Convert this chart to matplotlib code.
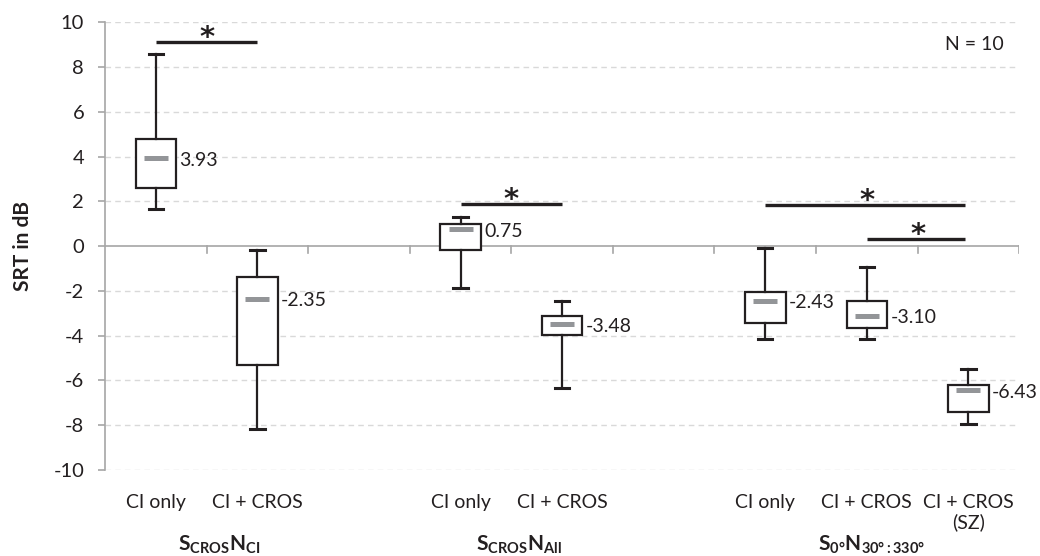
import matplotlib
matplotlib.use("Agg")
import matplotlib.pyplot as plt
import matplotlib.transforms as mtransforms

plt.rcParams['font.family'] = ['Lato', 'DejaVu Sans']
plt.rcParams['mathtext.fontset'] = 'custom'
plt.rcParams['mathtext.rm'] = 'Lato'
plt.rcParams['mathtext.bf'] = 'Lato:bold'
plt.rcParams['mathtext.it'] = 'Lato:italic'

# ---- data ----
categories = ["CI only", "CI + CROS", "", "CI only", "CI + CROS", "", "CI only", "CI + CROS", "CI + CROS\n(SZ)"]
box_positions = [0, 1, 3, 4, 6, 7, 8]
whisker_low = [1.68, -8.16, -1.89, -6.33, -4.14, -4.14, -7.94]
q1 = [2.58, -5.33, -0.18, -3.95, -3.44, -3.65, -7.42]
medians = [3.93, -2.35, 0.75, -3.48, -2.43, -3.10, -6.43]
q3 = [4.79, -1.39, 1.01, -3.14, -2.04, -2.44, -6.20]
whisker_high = [8.57, -0.19, 1.31, -2.45, -0.07, -0.92, -5.48]
median_labels = ["3.93", "-2.35", "0.75", "-3.48", "-2.43", "-3.10", "-6.43"]
group_labels = [r"$\mathbf{S_{CROS}N_{CI}}$", r"$\mathbf{S_{CROS}N_{All}}$", r"$\mathbf{S_{0°}N_{30°:330°}}$"]
group_positions = [0.62, 3.57, 7.05]
sig_from = [0, 3, 6, 7]
sig_to = [1, 4, 8, 8]
sig_y = [9.13, 1.89, 1.83, 0.34]
yticks = list(range(-10, 11, 2))

fig = plt.figure(figsize=(10.4, 5.56), dpi=100)
ax = fig.add_axes([0.101, 0.1547, 0.879, 0.805])
ax.set_xlim(-0.5, 8.5)
ax.set_ylim(-10, 10)

stats = []
for i in range(len(box_positions)):
    stats.append(dict(whislo=whisker_low[i], q1=q1[i], med=medians[i], q3=q3[i],
                      whishi=whisker_high[i], fliers=[]))
ax.bxp(stats, positions=box_positions, widths=0.4, capwidths=0.14,
       showfliers=False, patch_artist=True,
       boxprops=dict(facecolor='white', edgecolor='#231f20', linewidth=1.6),
       whiskerprops=dict(color='#231f20', linewidth=1.6),
       capprops=dict(color='#231f20', linewidth=2.2),
       medianprops=dict(linewidth=0), zorder=3)
ax.plot(box_positions, medians, linestyle='none', marker='_', markersize=17,
        markeredgewidth=3.6, color='#939598', zorder=4)
for p, m, lab in zip(box_positions, medians, median_labels):
    ax.annotate(lab, (p + 0.2, m), xytext=(2.5, -1.5), textcoords='offset points',
                ha='left', va='center', fontsize=14, color='#231f20', zorder=5)

# grid
for y in yticks:
    if y != 0:
        ax.axhline(y, color='#d9d9d9', linewidth=1.0, linestyle=(0, (4, 3)), zorder=0)
ax.axhline(0, color='#a6a6a6', linewidth=1.2, zorder=1)
for b in range(1, 10):
    ax.plot([b - 0.5, b - 0.5], [0, -0.32], color='#a6a6a6', linewidth=1.2, zorder=1)

for s in ['top', 'right', 'bottom']:
    ax.spines[s].set_visible(False)
ax.spines['left'].set_color('#a6a6a6')
ax.spines['left'].set_linewidth(1.2)
ax.set_yticks(yticks)
ax.set_yticklabels([str(y) for y in yticks])
ax.tick_params(axis='y', length=5, width=1.2, color='#a6a6a6', labelsize=14.5,
               labelcolor='#231f20', pad=10)
ax.set_xticks(range(len(categories)))
ax.set_xticklabels(categories, fontsize=14, color='#231f20', va='top', linespacing=1.15)
ax.tick_params(axis='x', length=0, pad=17)

trans = mtransforms.blended_transform_factory(ax.transData, ax.transAxes)
for gp, gl in zip(group_positions, group_labels):
    ax.text(gp, -0.181, gl, transform=trans, ha='center', va='baseline', fontsize=15,
            color='#231f20')

# significance bars
for a, b, y in zip(sig_from, sig_to, sig_y):
    ax.plot([a, b - (0.03 if b == 8 else 0)], [y, y], color='#231f20', linewidth=2.4,
            solid_capstyle='butt', zorder=3)
    ax.annotate('*', ((a + b) / 2, y), xytext=(0, -3), textcoords='offset points',
                ha='center', va='baseline', fontsize=21, fontweight='bold',
                family='DejaVu Sans', color='#231f20')

ax.text(0.951, 0.95, "N = 10", transform=ax.transAxes, ha='center', va='center',
        fontsize=14, color='#231f20')
ax.set_ylabel("SRT in dB", fontsize=15, fontweight='bold', color='#231f20')
ax.yaxis.set_label_coords(-0.079, 0.5)

fig.savefig("out.png", dpi=100)
